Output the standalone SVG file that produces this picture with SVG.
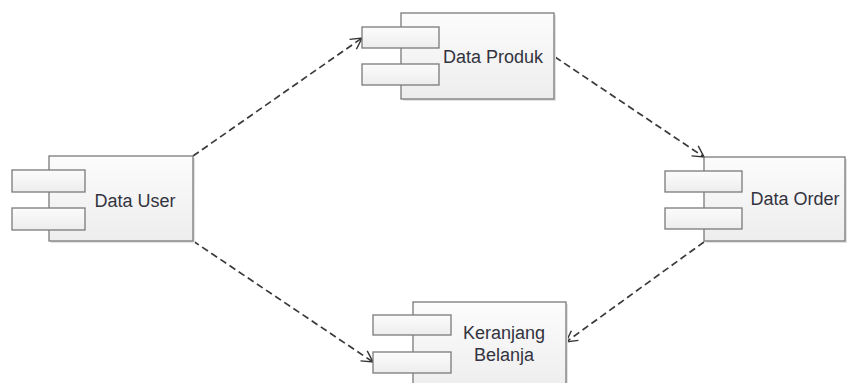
<svg xmlns="http://www.w3.org/2000/svg" width="849" height="383" viewBox="0 0 849 383">
  <defs>
    <linearGradient id="g" x1="0" y1="0" x2="0" y2="1">
      <stop offset="0" stop-color="#fcfcfc"/>
      <stop offset="1" stop-color="#ededed"/>
    </linearGradient>
    <marker id="arr" markerUnits="userSpaceOnUse" markerWidth="16" markerHeight="16" refX="12" refY="8" orient="auto" overflow="visible">
      <path d="M1,2 L12,8 L1,14" fill="none" stroke="#333" stroke-width="1.4"/>
    </marker>
  </defs>
  <style>
    .shadow { fill: #e2e2e2; }
    .box { fill: url(#g); stroke: #7a7a7a; stroke-width: 1.3; }
    .port { fill: url(#g); stroke: #7a7a7a; stroke-width: 1.3; }
    .lbl { font-family: "Liberation Sans", Arial, sans-serif; font-size: 18px; fill: #333340; text-anchor: middle; }
    .dep { fill: none; stroke: #3a3a3a; stroke-width: 1.7; stroke-dasharray: 7 4; marker-end: url(#arr); }
  </style>
  <rect width="849" height="383" fill="#ffffff"/>

  <g id="connectors">
    <path class="dep" d="M193,156 L362,38"/>
    <path class="dep" d="M555,57 L704,157"/>
    <path class="dep" d="M193,241 L373,362"/>
    <path class="dep" d="M704,242 L566,342"/>
  </g>

  <g id="data-user">
    <rect class="shadow" x="51" y="158" width="144" height="85"/>
    <rect class="box" x="49" y="156" width="144" height="85"/>
    <rect class="port" x="12" y="170" width="73" height="22"/>
    <rect class="port" x="12" y="208" width="73" height="22"/>
    <text class="lbl" x="135" y="207">Data User</text>
  </g>

  <g id="data-produk">
    <rect class="shadow" x="403" y="15" width="153" height="86"/>
    <rect class="box" x="401" y="13" width="153" height="86"/>
    <rect class="port" x="362" y="27" width="77" height="21"/>
    <rect class="port" x="362" y="64" width="77" height="21"/>
    <text class="lbl" x="493" y="63">Data Produk</text>
  </g>

  <g id="data-order">
    <rect class="shadow" x="706" y="159" width="141" height="84"/>
    <rect class="box" x="704" y="157" width="141" height="84"/>
    <rect class="port" x="665" y="171" width="77" height="21"/>
    <rect class="port" x="665" y="208" width="77" height="21"/>
    <text class="lbl" x="795" y="205">Data Order</text>
  </g>

  <g id="keranjang-belanja">
    <rect class="shadow" x="415" y="304" width="153" height="90"/>
    <rect class="box" x="413" y="302" width="153" height="90"/>
    <rect class="port" x="373" y="315" width="78" height="20"/>
    <rect class="port" x="373" y="352" width="78" height="21"/>
    <text class="lbl" x="504" y="339">Keranjang</text>
    <text class="lbl" x="504" y="361">Belanja</text>
  </g>
</svg>
